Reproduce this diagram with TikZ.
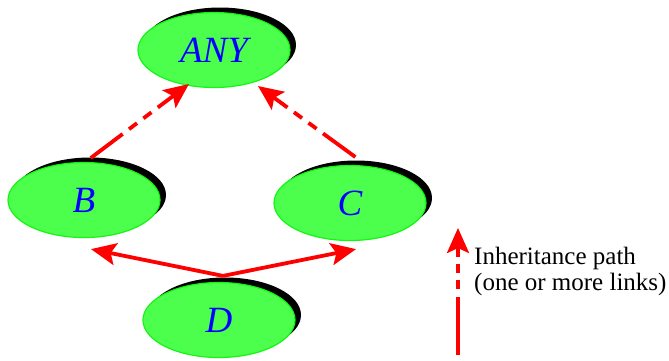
\documentclass[tikz,border=0pt]{standalone}
\usepackage{fontspec}
\setmainfont{Liberation Serif}
\usetikzlibrary{shapes.geometric,shadows,arrows.meta,calc}
\definecolor{ngreen}{RGB}{76,255,76}
\definecolor{bgreen}{RGB}{20,245,20}
\begin{document}
\begin{tikzpicture}[x=1pt,y=-1pt,
  cls/.style={ellipse, draw=bgreen, line width=1.2pt, fill=ngreen,
    minimum width=152pt, minimum height=75pt, inner sep=0pt, text=blue,
    font=\fontsize{37}{40}\selectfont\itshape,
    drop shadow={shadow xshift=6pt, shadow yshift=5pt, fill=black, opacity=1}},
  inh/.style={red, line width=3.8pt, dash pattern=on 40pt off 8pt on 10pt off 8pt on 10pt off 8pt on 300pt},
  leginh/.style={red, line width=3.8pt, dash pattern=on 58pt off 8pt on 9pt off 7pt on 9pt off 7pt on 300pt},
  link/.style={red, line width=3.8pt},
  tip/.style={-{Stealth[length=25pt,width=22pt,inset=5pt]}},
  legtext/.style={anchor=base west, inner xsep=0pt, font=\fontsize{25}{26}\selectfont},
]
\useasboundingbox (0,0) rectangle (669,360);
\node[cls] (ANY) at (214,50) {ANY};
\node[cls] (B) at (84,200) {B};
\node[cls] (C) at (350,203) {C};
\node[cls] (D) at (219,320) {D};

\coordinate (Bs) at ($(B.80)+(0,-4)$);
\coordinate (Cs) at ($(C.82)+(0,-8)$);
\coordinate (Al) at ($(ANY.center)+(-25,34)$);
\coordinate (Ar) at ($(ANY.center)+(44,36)$);
\draw[inh,tip] (Bs) -- (Al);
\draw[inh,tip] (Cs) -- (Ar);

\coordinate (Dj) at ($(D.north)+(4,-6)$);
\coordinate (Bt) at ($(B.south)+(7,11)$);
\coordinate (Ct) at ($(C.south)+(6,8)$);
\draw[link,tip] (Dj) -- (Bt);
\draw[link,tip] (Dj) -- (Ct);

\coordinate (Lb) at (458,355);
\coordinate (Lt) at (458,228);
\draw[leginh,tip] (Lb) -- (Lt);
\node[legtext] (lg1) at (474,264) {Inheritance path};
\node[legtext] (lg2) at (474,290) {(one or more links)};
\end{tikzpicture}
\end{document}
